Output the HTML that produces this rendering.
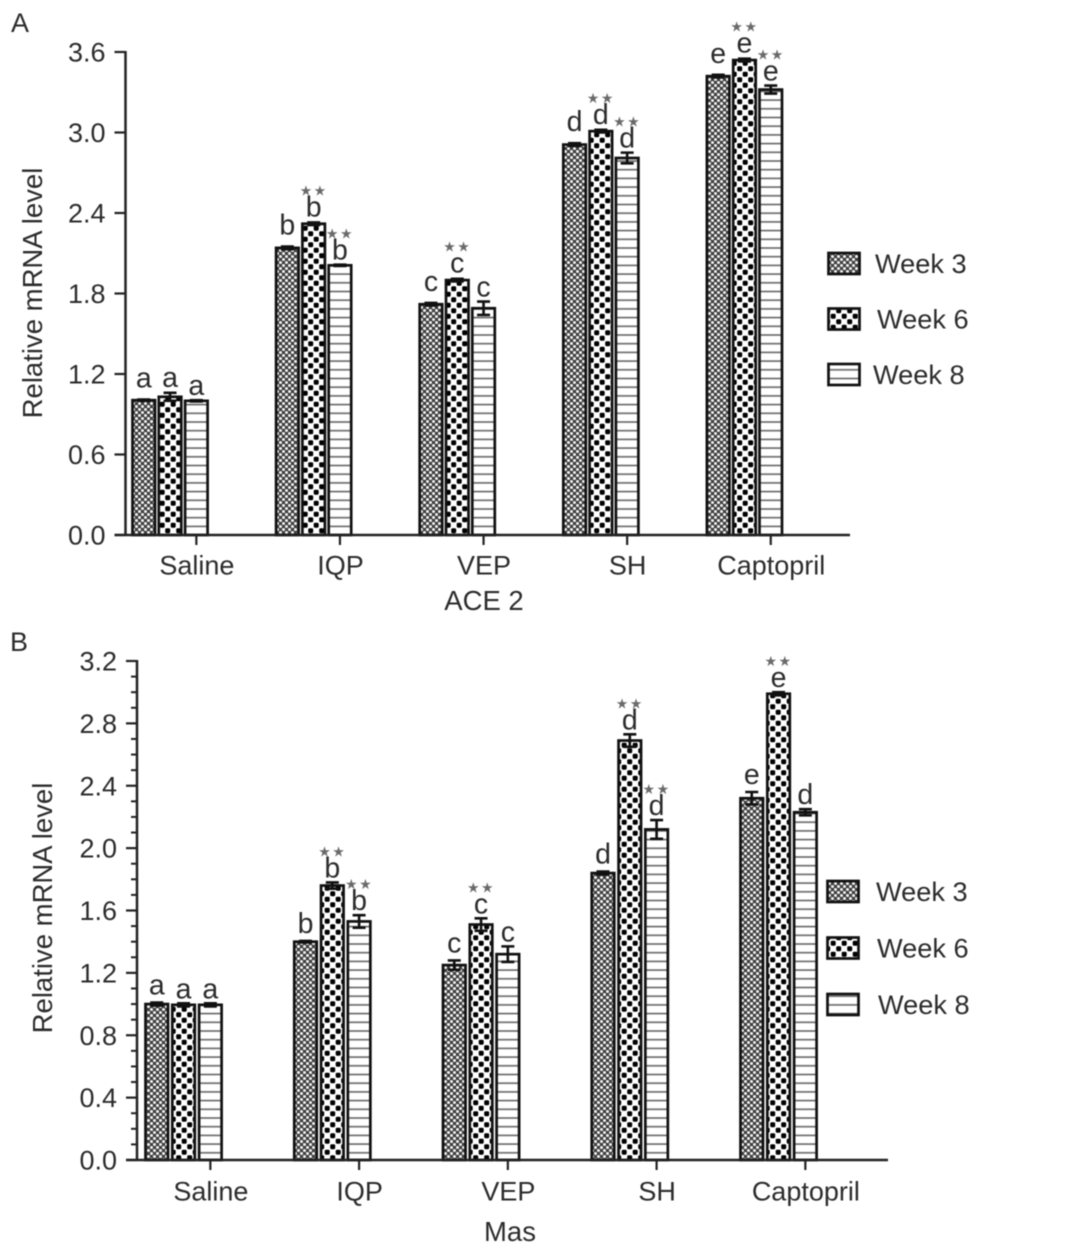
<!DOCTYPE html>
<html lang="en">
<head>
<meta charset="utf-8">
<title>Relative mRNA level of ACE 2 and Mas</title>
<style>
html,body{margin:0;padding:0;background:#fff;}
#figure{display:block;width:1085px;height:1254px;filter:blur(0.65px);}
text{font-family:"Liberation Sans",sans-serif;fill:#2c2c2c;}
</style>
</head>
<body>
<svg id="figure" xmlns="http://www.w3.org/2000/svg" width="1085" height="1254" viewBox="0 0 1085 1254">
  <defs>
    <pattern id="hatch-week3" patternUnits="userSpaceOnUse" width="6" height="6">
      <rect width="6" height="6" fill="#3c3c3c"/>
      <circle cx="1.5" cy="1.5" r="1.55" fill="#f0f0f0"/>
      <circle cx="4.5" cy="4.5" r="1.55" fill="#f0f0f0"/>
    </pattern>
    <pattern id="hatch-week6" patternUnits="userSpaceOnUse" width="11" height="11">
      <rect width="11" height="11" fill="#fff"/>
      <rect x="0.2" y="0.2" width="5" height="5" rx="1.4" fill="#000"/>
      <rect x="5.7" y="5.7" width="5" height="5" rx="1.4" fill="#000"/>
    </pattern>
    <pattern id="hatch-week8" patternUnits="userSpaceOnUse" width="8.7" height="8.7">
      <rect width="8.7" height="8.7" fill="#fff"/>
      <rect y="3.6" width="8.7" height="1.6" fill="#666"/>
    </pattern>
  </defs>
  <g id="panel-a"></g>
  <g id="panel-b"></g>
</svg>
<script>
const groups = ['Saline', 'IQP', 'VEP', 'SH', 'Captopril'];
const seriesNames = ['Week 3', 'Week 6', 'Week 8'];

const aTicks = ['0.0', '0.6', '1.2', '1.8', '2.4', '3.0', '3.6'];
const aWeek3 = [1.005, 2.14, 1.72, 2.91, 3.42];
const aWeek6 = [1.03, 2.32, 1.90, 3.01, 3.54];
const aWeek8 = [1.00, 2.01, 1.69, 2.81, 3.32];
const aErr3 = [0.005, 0.01, 0.01, 0.01, 0.01];
const aErr6 = [0.03, 0.01, 0.01, 0.01, 0.01];
const aErr8 = [0.005, 0.005, 0.05, 0.04, 0.03];
const aLetters3 = ['a', 'b', 'c', 'd', 'e'];
const aLetters6 = ['a', 'b', 'c', 'd', 'e'];
const aLetters8 = ['a', 'b', 'c', 'd', 'e'];
const aStars3 = [0, 0, 0, 0, 0];
const aStars6 = [0, 1, 1, 1, 1];
const aStars8 = [0, 1, 0, 1, 1];

const bTicks = ['0.0', '0.4', '0.8', '1.2', '1.6', '2.0', '2.4', '2.8', '3.2'];
const bWeek3 = [1.00, 1.40, 1.25, 1.84, 2.32];
const bWeek6 = [0.995, 1.76, 1.51, 2.69, 2.99];
const bWeek8 = [0.995, 1.53, 1.32, 2.12, 2.23];
const bErr3 = [0.01, 0.005, 0.03, 0.01, 0.04];
const bErr6 = [0.01, 0.02, 0.04, 0.04, 0.01];
const bErr8 = [0.01, 0.04, 0.05, 0.06, 0.02];
const bLetters3 = ['a', 'b', 'c', 'd', 'e'];
const bLetters6 = ['a', 'b', 'c', 'd', 'e'];
const bLetters8 = ['a', 'b', 'c', 'd', 'd'];
const bStars3 = [0, 0, 0, 0, 0];
const bStars6 = [0, 1, 1, 1, 1];
const bStars8 = [0, 1, 0, 1, 0];

const SVGNS = 'http://www.w3.org/2000/svg';

function make(parent, tag, attrs, txt) {
  const el = document.createElementNS(SVGNS, tag);
  for (const k in attrs) el.setAttribute(k, attrs[k]);
  if (txt !== undefined) el.textContent = txt;
  parent.appendChild(el);
  return el;
}

function drawChart(root, cfg) {
  const yScale = v => cfg.yZero - (v / cfg.yMax) * (cfg.yZero - cfg.yTop);
  const barLeft = (g, s) => cfg.barStart + g * cfg.groupStep + s * cfg.barStep;
  const barCenter = (g, s) => barLeft(g, s) + cfg.barWidth / 2;

  // panel letter
  const panel = make(root, 'text', {x: cfg.panelX, y: cfg.panelY, 'font-size': 27}, cfg.panel);
  
  

  // bars, error bars, significance labels
  cfg.values.forEach((vals, s) => {
    vals.forEach((v, g) => {
      const top = yScale(v);
      const bar = make(root, 'rect', {
        x: barLeft(g, s), y: top, width: cfg.barWidth, height: cfg.yZero - top,
        fill: 'url(#hatch-week' + [3, 6, 8][s] + ')', stroke: '#111', 'stroke-width': 2.7
      });
      
      

      const cx = barCenter(g, s);
      const e = cfg.errors[s][g];
      const hi = yScale(v + e);
      const lo = yScale(v - e);
      const err = make(root, 'path', {
        d: 'M' + (cx - 6.5) + ' ' + hi + 'H' + (cx + 6.5) + 'M' + cx + ' ' + hi + 'V' + lo + 'M' + (cx - 6.5) + ' ' + lo + 'H' + (cx + 6.5),
        stroke: '#111', 'stroke-width': 2.6, fill: 'none'
      });
      
      

      const base = hi - cfg.labelGap[s];
      const letter = make(root, 'text', {x: cx, y: base, 'font-size': 28.5, 'text-anchor': 'middle'}, cfg.letters[s][g]);
      
      

      if (cfg.stars[s][g]) {
        const star = make(root, 'text', {x: cx, y: base - 21, 'font-size': 14, 'text-anchor': 'middle', 'letter-spacing': 1.5, style: 'font-family:"DejaVu Sans",sans-serif;fill:#6a6a6a'}, '★★');
        
        
      }
    });
  });

  // y axis
  const yAxis = make(root, 'line', {x1: cfg.axisX, x2: cfg.axisX, y1: cfg.yTop - 1, y2: cfg.yZero + 1, stroke: '#222', 'stroke-width': 2.5});
  
  

  cfg.ticks.forEach(t => {
    const y = yScale(parseFloat(t));
    const tick = make(root, 'line', {x1: cfg.axisX - 11, x2: cfg.axisX, y1: y, y2: y, stroke: '#222', 'stroke-width': 2.2});
    
    
    const lab = make(root, 'text', {x: cfg.axisX - 20, y: y + 9.5, 'font-size': 27, 'text-anchor': 'end'}, t);
    
    
  });

  for (let i = 0; i < cfg.ticks.length - 1 && cfg.minor > 0; i++) {
    const a = parseFloat(cfg.ticks[i]);
    const b = parseFloat(cfg.ticks[i + 1]);
    for (let m = 1; m <= cfg.minor; m++) {
      const y = yScale(a + (b - a) * m / (cfg.minor + 1));
      const mt = make(root, 'line', {x1: cfg.axisX - 6, x2: cfg.axisX, y1: y, y2: y, stroke: '#222', 'stroke-width': 2});
      
      
    }
  }

  // x axis
  const xAxis = make(root, 'line', {x1: cfg.axisX - 11, x2: cfg.xEnd, y1: cfg.yZero, y2: cfg.yZero, stroke: '#222', 'stroke-width': 2.5});
  
  

  groups.forEach((name, g) => {
    const x = barCenter(g, 2);
    const tick = make(root, 'line', {x1: x, x2: x, y1: cfg.yZero, y2: cfg.yZero + 10, stroke: '#222', 'stroke-width': 2.2});
    
    
    const lab = make(root, 'text', {x: x + 0.5, y: cfg.yZero + cfg.catDrop, 'font-size': 27, 'text-anchor': 'middle'}, name);
    
    
  });

  const xt = make(root, 'text', {x: cfg.xTitleX, y: cfg.xTitleY, 'font-size': 27.5, 'text-anchor': 'middle'}, cfg.xTitle);
  
  

  const yt = make(root, 'text', {x: 0, y: 0, 'font-size': 27.5, 'text-anchor': 'middle', transform: 'translate(' + cfg.yTitleX + ' ' + cfg.yTitleY + ') rotate(-90)'}, 'Relative mRNA level');
  
  

  // legend
  seriesNames.forEach((name, s) => {
    const y = cfg.legendY + s * cfg.legendStep;
    const sw = make(root, 'rect', {x: cfg.legendX, y: y, width: 31, height: 21, fill: 'url(#hatch-week' + [3, 6, 8][s] + ')', stroke: '#111', 'stroke-width': 2.7});
    
    
    const lab = make(root, 'text', {x: cfg.legendTextX[s], y: y + 20, 'font-size': 27.2}, name);
    
    
  });
}

drawChart(document.getElementById('panel-a'), {
  panel: 'A', panelX: 11, panelY: 32, labelGap: [12, 6, 5],
  values: [aWeek3, aWeek6, aWeek8], errors: [aErr3, aErr6, aErr8],
  letters: [aLetters3, aLetters6, aLetters8], stars: [aStars3, aStars6, aStars8],
  ticks: aTicks, yMax: 3.6, yTop: 52, yZero: 535, minor: 0,
  axisX: 125.5, xEnd: 850,
  barStart: 132.5, groupStep: 143.6, barStep: 26.3, barWidth: 22.5,
  catDrop: 39.5, xTitle: 'ACE 2', xTitleX: 484, xTitleY: 610,
  yTitleX: 42, yTitleY: 293,
  legendX: 828.5, legendY: 253, legendStep: 55.5, legendTextX: [875, 877, 873]
});

drawChart(document.getElementById('panel-b'), {
  panel: 'B', panelX: 10, panelY: 651, labelGap: [8, 5, 5],
  values: [bWeek3, bWeek6, bWeek8], errors: [bErr3, bErr6, bErr8],
  letters: [bLetters3, bLetters6, bLetters8], stars: [bStars3, bStars6, bStars8],
  ticks: bTicks, yMax: 3.2, yTop: 661, yZero: 1160, minor: 3,
  axisX: 137, xEnd: 888,
  barStart: 145.5, groupStep: 148.75, barStep: 26.8, barWidth: 22.5,
  catDrop: 40.5, xTitle: 'Mas', xTitleX: 510, xTitleY: 1241,
  yTitleX: 52, yTitleY: 908,
  legendX: 827.5, legendY: 881, legendStep: 56.5, legendTextX: [876, 877, 878]
});
</script>
</body>
</html>
